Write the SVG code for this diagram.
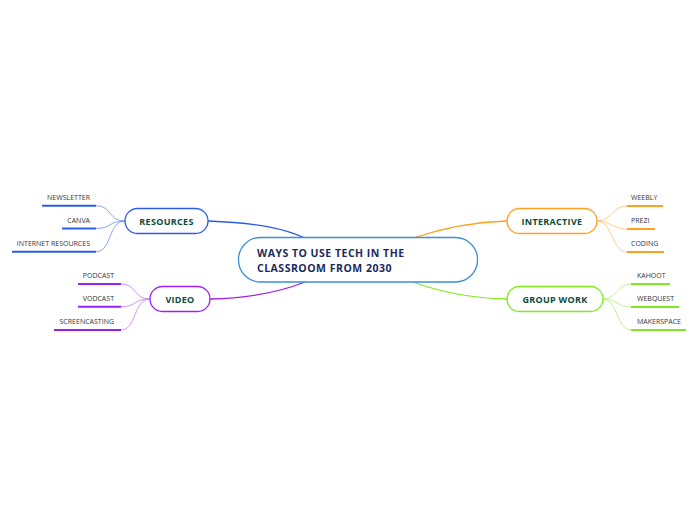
<svg xmlns="http://www.w3.org/2000/svg" width="696" height="520" viewBox="0 0 696 520">
<style>
.nt{font-family:"Open Sans","Noto Sans",sans-serif;font-weight:bold;font-size:9px;fill:#0d4a3a;text-anchor:middle;letter-spacing:0.3px}
.ct{font-family:"Open Sans","Noto Sans",sans-serif;font-weight:bold;font-size:10.5px;fill:#1b2a5c;letter-spacing:0.5px}
.lt{font-family:"Open Sans","Noto Sans",sans-serif;font-size:7px;fill:#333}
.box{fill:#fff;stroke-width:1.3}
.ul{stroke-width:2;fill:none}
.c{fill:none}
</style>
<g id="connectors">
<path class="c" d="M208,221 C260,223 285,229 305,238" stroke="#2a5ce8" stroke-width="1.3"/>
<path class="c" d="M210,299 C255,298 285,290 305,282" stroke="#9b1ff0" stroke-width="1.3"/>
<path class="c" d="M413,238 C440,229 470,222 507,221" stroke="#ffa020" stroke-width="1.3"/>
<path class="c" d="M413,282 C440,292 470,298 507,299" stroke="#80e820" stroke-width="1.3"/>
<g stroke="#6f8ff0" stroke-width="0.8" fill="none">
<path d="M125,221 C108,221 112,205.7 96,205.7"/>
<path d="M125,221 C108,221 112,228.5 96,228.5"/>
<path d="M125,221 C108,221 112,251.7 96,251.7"/>
</g>
<g stroke="#c07af5" stroke-width="0.8" fill="none">
<path d="M150,299 C133,299 137,284 121,284"/>
<path d="M150,299 C133,299 137,306.7 121,306.7"/>
<path d="M150,299 C133,299 137,330 121,330"/>
</g>
<g stroke="#ffc070" stroke-width="0.8" fill="none">
<path d="M597,221 C612,221 612,206 627,206"/>
<path d="M597,221 C612,221 612,229 627,229"/>
<path d="M597,221 C612,221 612,252 627,252"/>
</g>
<g stroke="#b0f070" stroke-width="0.8" fill="none">
<path d="M603,299 C617,299 617,284 631,284"/>
<path d="M603,299 C617,299 617,307 631,307"/>
<path d="M603,299 C617,299 617,330 631,330"/>
</g>
</g>
<g id="central">
<rect x="238.5" y="237.5" width="239" height="44.5" rx="22" class="box" stroke="#3a8fd6"/>
<text class="ct" x="257" y="257">WAYS TO USE TECH IN THE</text>
<text class="ct" x="257" y="271.5">CLASSROOM FROM 2030</text>
</g>
<g id="resources">
<rect x="125" y="208.5" width="83" height="25" rx="12.5" class="box" stroke="#2a5ce8"/>
<text class="nt" x="166.5" y="224.5">RESOURCES</text>
</g>
<g id="newsletter">
<text class="lt" x="90" y="200" text-anchor="end">NEWSLETTER</text>
<line class="ul" x1="42" y1="205.7" x2="96" y2="205.7" stroke="#2a5ce8"/>
</g>
<g id="canva">
<text class="lt" x="90" y="222.5" text-anchor="end">CANVA</text>
<line class="ul" x1="62" y1="228.5" x2="96" y2="228.5" stroke="#2a5ce8"/>
</g>
<g id="internet">
<text class="lt" x="90" y="246" text-anchor="end">INTERNET RESOURCES</text>
<line class="ul" x1="12" y1="251.7" x2="96" y2="251.7" stroke="#2a5ce8"/>
</g>
<g id="video">
<rect x="150" y="286.5" width="60" height="25" rx="12.5" class="box" stroke="#9b1ff0"/>
<text class="nt" x="180" y="302.5">VIDEO</text>
</g>
<g id="podcast">
<text class="lt" x="114" y="278" text-anchor="end">PODCAST</text>
<line class="ul" x1="78" y1="284" x2="121" y2="284" stroke="#9b1ff0"/>
</g>
<g id="vodcast">
<text class="lt" x="114" y="301" text-anchor="end">VODCAST</text>
<line class="ul" x1="78" y1="306.7" x2="121" y2="306.7" stroke="#9b1ff0"/>
</g>
<g id="screencasting">
<text class="lt" x="114" y="324" text-anchor="end">SCREENCASTING</text>
<line class="ul" x1="54" y1="330" x2="121" y2="330" stroke="#9b1ff0"/>
</g>
<g id="interactive">
<rect x="507" y="208.5" width="90" height="25" rx="12.5" class="box" stroke="#ffa020"/>
<text class="nt" x="552" y="224.5">INTERACTIVE</text>
</g>
<g id="weebly">
<text class="lt" x="631" y="200">WEEBLY</text>
<line class="ul" x1="627" y1="206" x2="663" y2="206" stroke="#ffa020"/>
</g>
<g id="prezi">
<text class="lt" x="631" y="223">PREZI</text>
<line class="ul" x1="627" y1="229" x2="655" y2="229" stroke="#ffa020"/>
</g>
<g id="coding">
<text class="lt" x="631" y="246">CODING</text>
<line class="ul" x1="627" y1="252" x2="664" y2="252" stroke="#ffa020"/>
</g>
<g id="groupwork">
<rect x="507" y="286.5" width="96" height="25" rx="12.5" class="box" stroke="#80e820"/>
<text class="nt" x="555" y="302.5">GROUP WORK</text>
</g>
<g id="kahoot">
<text class="lt" x="637" y="278">KAHOOT</text>
<line class="ul" x1="631" y1="284" x2="670" y2="284" stroke="#80e820"/>
</g>
<g id="webquest">
<text class="lt" x="637" y="301">WEBQUEST</text>
<line class="ul" x1="631" y1="307" x2="679" y2="307" stroke="#80e820"/>
</g>
<g id="makerspace">
<text class="lt" x="637" y="324">MAKERSPACE</text>
<line class="ul" x1="631" y1="330" x2="686" y2="330" stroke="#80e820"/>
</g>
</svg>
